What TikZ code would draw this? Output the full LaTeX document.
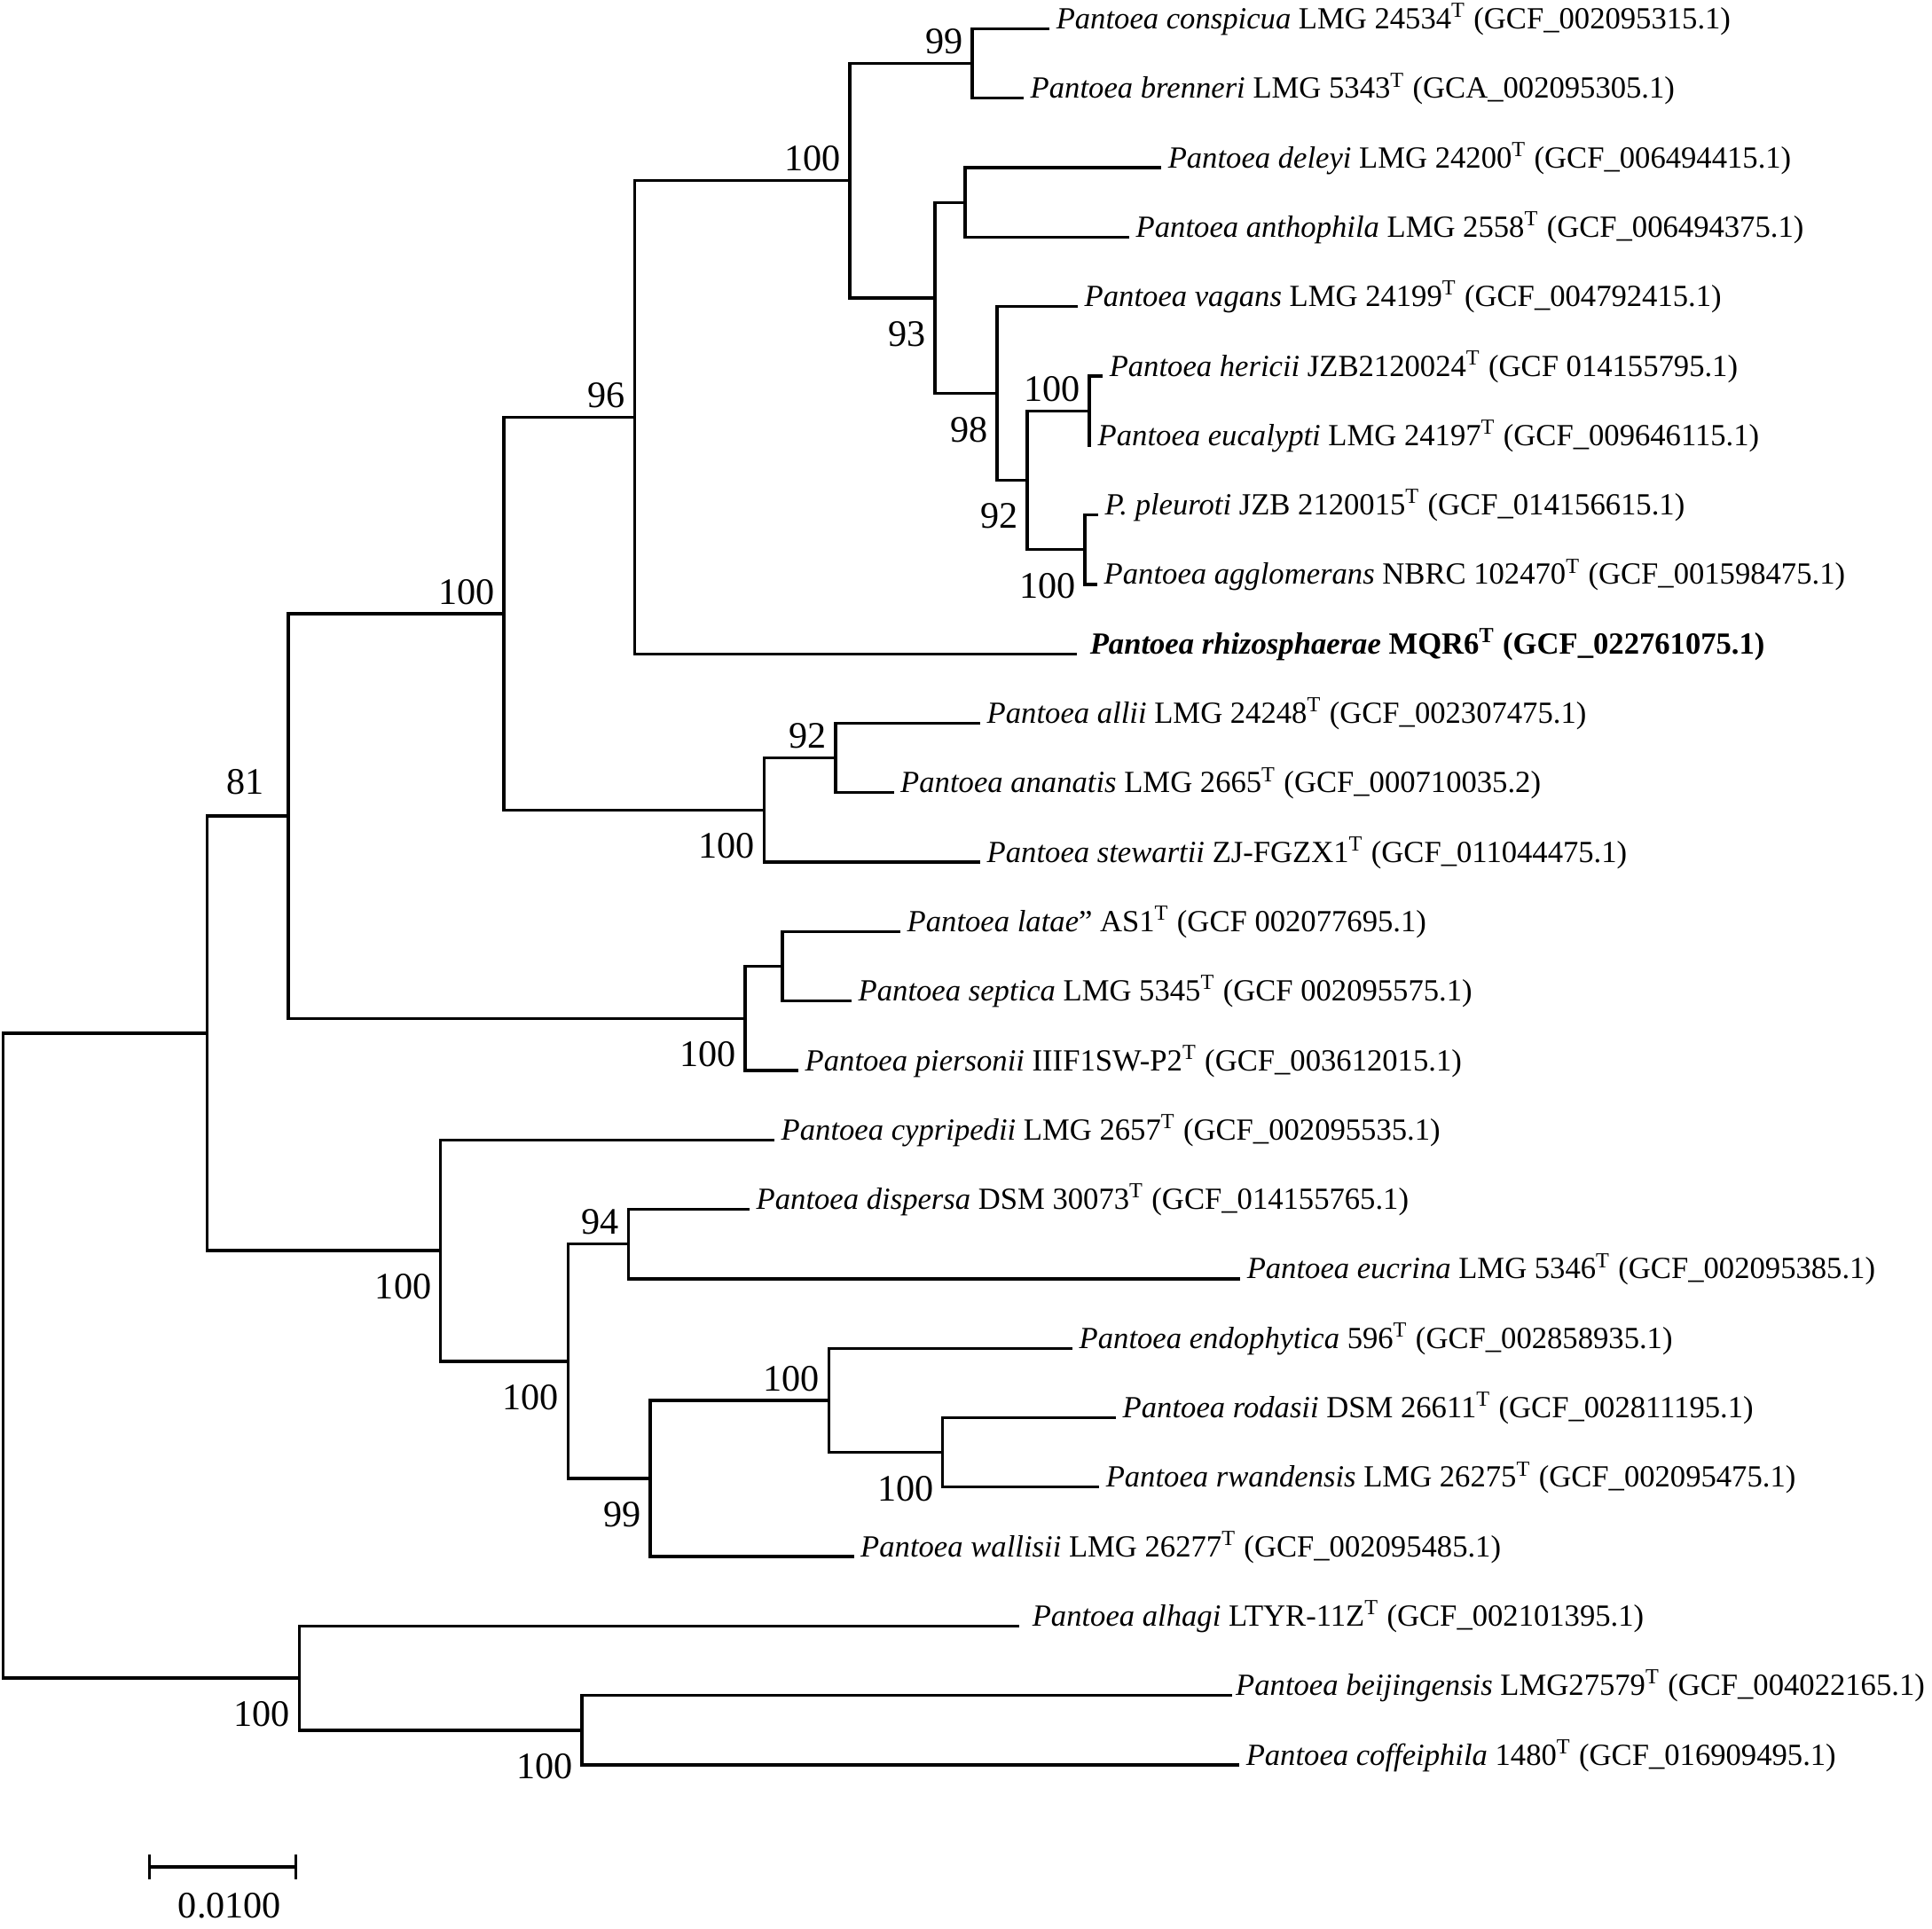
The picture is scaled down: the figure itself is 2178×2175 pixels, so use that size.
\documentclass[tikz,border=0pt]{standalone}
\usepackage{fontspec}
\setmainfont{Liberation Serif}
\usepackage{tikz}
\usetikzlibrary{arrows.meta}
\newcommand{\pant}[1]{\textit{Pantoea #1}}
\newcommand{\typ}{\textsuperscript{T}}
\tikzstyle{branch} = [draw, line width=0.95pt]
\tikzstyle{leaf} = [anchor=base west, inner sep=2pt, font=\fontsize{9.85}{12}\selectfont]
\tikzstyle{bsup} = [anchor=south east, inner sep=2.5pt, font=\fontsize{12}{14}\selectfont]
\tikzstyle{bsdown} = [anchor=north east, inner sep=2.5pt, yshift=-0.16cm, font=\fontsize{12}{14}\selectfont]
\begin{document}
\begin{tikzpicture}[x=0.01cm, y=-0.01cm]
		\useasboundingbox (0,0) rectangle (2178,2175);
		% Place leaves
		\node [leaf] (conspicua) at (1183,32.5) {\pant{conspicua} LMG 24534\typ{} (GCF\_002095315.1)};
		\node [leaf] (brenneri) at (1154,110.8) {\pant{brenneri} LMG 5343\typ{} (GCA\_002095305.1)};
		\node [leaf] (deleyi) at (1309,189.1) {\pant{deleyi} LMG 24200\typ{} (GCF\_006494415.1)};
		\node [leaf] (anthophila) at (1273,267.4) {\pant{anthophila} LMG 2558\typ{} (GCF\_006494375.1)};
		\node [leaf] (vagans) at (1215,345.7) {\pant{vagans} LMG 24199\typ{} (GCF\_004792415.1)};
		\node [leaf] (hericii) at (1243,424.0) {\pant{hericii} JZB2120024\typ{} (GCF 014155795.1)};
		\node [leaf] (eucalypti) at (1230,502.3) {\pant{eucalypti} LMG 24197\typ{} (GCF\_009646115.1)};
		\node [leaf] (pleuroti) at (1238,580.6) {\textit{P. pleuroti} JZB 2120015\typ{} (GCF\_014156615.1)};
		\node [leaf] (agglomerans) at (1237,658.9) {\pant{agglomerans} NBRC 102470\typ{} (GCF\_001598475.1)};
		\node [leaf, inner xsep=4pt] (rhizosphaerae) at (1214,737.2) {\textbf{\pant{rhizosphaerae} MQR6\typ{} (GCF\_022761075.1)}};
		\node [leaf] (allii) at (1105,815.5) {\pant{allii} LMG 24248\typ{} (GCF\_002307475.1)};
		\node [leaf] (ananatis) at (1007.5,893.8) {\pant{ananatis} LMG 2665\typ{} (GCF\_000710035.2)};
		\node [leaf] (stewartii) at (1105,972.1) {\pant{stewartii} ZJ-FGZX1\typ{} (GCF\_011044475.1)};
		\node [leaf] (latae) at (1015,1050.4) {\pant{latae}'' AS1\typ{} (GCF 002077695.1)};
		\node [leaf] (septica) at (960,1128.7) {\pant{septica} LMG 5345\typ{} (GCF 002095575.1)};
		\node [leaf] (piersonii) at (900,1207.0) {\pant{piersonii} IIIF1SW-P2\typ{} (GCF\_003612015.1)};
		\node [leaf] (cypripedii) at (873,1285.3) {\pant{cypripedii} LMG 2657\typ{} (GCF\_002095535.1)};
		\node [leaf] (dispersa) at (845,1363.6) {\pant{dispersa} DSM 30073\typ{} (GCF\_014155765.1)};
		\node [leaf] (eucrina) at (1398,1441.9) {\pant{eucrina} LMG 5346\typ{} (GCF\_002095385.1)};
		\node [leaf] (endophytica) at (1209,1520.2) {\pant{endophytica} 596\typ{} (GCF\_002858935.1)};
		\node [leaf] (rodasii) at (1258,1598.5) {\pant{rodasii} DSM 26611\typ{} (GCF\_002811195.1)};
		\node [leaf] (rwandensis) at (1239,1676.8) {\pant{rwandensis} LMG 26275\typ{} (GCF\_002095475.1)};
		\node [leaf] (wallisii) at (962.5,1755.1) {\pant{wallisii} LMG 26277\typ{} (GCF\_002095485.1)};
		\node [leaf, inner xsep=4pt] (alhagi) at (1149,1833.4) {\pant{alhagi} LTYR-11Z\typ{} (GCF\_002101395.1)};
		\node [leaf, inner xsep=1pt] (beijingensis) at (1389,1911.7) {\pant{beijingensis} LMG27579\typ{} (GCF\_004022165.1)};
		\node [leaf] (coffeiphila) at (1397,1990.0) {\pant{coffeiphila} 1480\typ{} (GCF\_016909495.1)};
		
		% Place inner nodes
		\coordinate (cb) at (1096,71.7);
		\coordinate (dl) at (1088,228.3);
		\coordinate (hr) at (1228,463.2);
		\coordinate (pl) at (1223,619.8);
		\coordinate (hp) at (1158,541.5);
		\coordinate (vg) at (1124,443.6);
		\coordinate (dv) at (1054,335.9);
		\coordinate (cd) at (958,203.8);
		\coordinate (rz) at (715.5,470.5);
		\coordinate (al) at (942,854.7);
		\coordinate (ast) at (861.5,913.4);
		\coordinate (core) at (568,691.9);
		\coordinate (lt) at (882,1089.6);
		\coordinate (lsp) at (840,1148.3);
		\coordinate (big) at (325,920.1);
		\coordinate (de) at (708.5,1402.8);
		\coordinate (rr) at (1062.8,1637.7);
		\coordinate (er) at (934.4,1578.9);
		\coordinate (erw) at (733,1667.0);
		\coordinate (dew) at (640.5,1534.9);
		\coordinate (cyp) at (496.7,1410.1);
		\coordinate (main) at (233.6,1165.1);
		\coordinate (bc) at (656,1950.9);
		\coordinate (ahb) at (337.4,1892.1);
		\coordinate (root) at (3.5,1528.6);
		
		% Draw branches
		\path [branch] (root) |- (main);
		\path [branch] (root) |- node [bsdown, pos=1] {100} (ahb);
		\path [branch] (main) |- node [bsup, pos=1, xshift=-0.17cm, yshift=0.14cm] {81} (big);
		\path [branch] (main) |- node [bsdown, pos=1] {100} (cyp);
		
		\path [branch] (big) |- node [bsup, pos=1] {100} (core);
		\path [branch] (big) |- node [bsdown, pos=1] {100} (lsp);
		\path [branch] (core) |- node [bsup, pos=1] {96} (rz);
		\path [branch] (core) |- node [bsdown, pos=1] {100} (ast);
		\path [branch] (rz) |- node [bsup, pos=1] {100} (cd);
		\path [branch] (rz) |- (rhizosphaerae.base west);
		\path [branch] (cd) |- node [bsup, pos=1] {99} (cb);
		\path [branch] (cd) |- node [bsdown, pos=1] {93} (dv);
		\path [branch] (cb) |- (conspicua.base west);
		\path [branch] (cb) |- (brenneri.base west);
		\path [branch] (dv) |- (dl);
		\path [branch] (dv) |- node [bsdown, pos=1] {98} (vg);
		\path [branch] (dl) |- (deleyi.base west);
		\path [branch] (dl) |- (anthophila.base west);
		\path [branch] (vg) |- (vagans.base west);
		\path [branch] (vg) |- node [bsdown, pos=1] {92} (hp);
		\path [branch] (hp) |- node [bsup, pos=1] {100} (hr);
		\path [branch] (hp) |- node [bsdown, pos=1] {100} (pl);
		\path [branch] (hr) |- (hericii.base west);
		\path [branch] (hr) |- (eucalypti.base west);
		\path [branch] (pl) |- (pleuroti.base west);
		\path [branch] (pl) |- (agglomerans.base west);
		
		\path [branch] (ast) |- node [bsup, pos=1] {92} (al);
		\path [branch] (ast) |- (stewartii.base west);
		\path [branch] (al) |- (allii.base west);
		\path [branch] (al) |- (ananatis.base west);
		\path [branch] (lsp) |- (lt);
		\path [branch] (lsp) |- (piersonii.base west);
		\path [branch] (lt) |- (latae.base west);
		\path [branch] (lt) |- (septica.base west);
		
		\path [branch] (cyp) |- (cypripedii.base west);
		\path [branch] (cyp) |- node [bsdown, pos=1] {100} (dew);
		\path [branch] (dew) |- node [bsup, pos=1] {94} (de);
		\path [branch] (dew) |- node [bsdown, pos=1] {99} (erw);
		\path [branch] (de) |- (dispersa.base west);
		\path [branch] (de) |- (eucrina.base west);
		\path [branch] (erw) |- node [bsup, pos=1] {100} (er);
		\path [branch] (erw) |- (wallisii.base west);
		\path [branch] (er) |- (endophytica.base west);
		\path [branch] (er) |- node [bsdown, pos=1] {100} (rr);
		\path [branch] (rr) |- (rodasii.base west);
		\path [branch] (rr) |- (rwandensis.base west);
		
		\path [branch] (ahb) |- (alhagi.base west);
		\path [branch] (ahb) |- node [bsdown, pos=1] {100} (bc);
		\path [branch] (bc) |- (beijingensis.base west);
		\path [branch] (bc) |- (coffeiphila.base west);
		
		% Scale bar
		\coordinate (barl) at (167,2105);
		\coordinate (barr) at (335,2105);
		\path [branch, {Bar[width=0.28cm]}-{Bar[width=0.28cm]}] (barl) -- node [anchor=north, yshift=-0.16cm, xshift=0.08cm, font=\fontsize{12}{14}\selectfont] (barlabel) {0.0100} (barr);
\end{tikzpicture}
\end{document}
